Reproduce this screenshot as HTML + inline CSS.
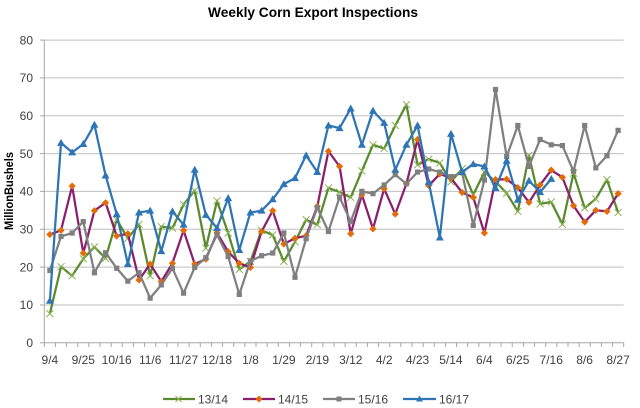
<!DOCTYPE html>
<html>
<head>
<meta charset="utf-8">
<style>
html,body{margin:0;padding:0;background:#fff;}
body{width:640px;height:408px;overflow:hidden;}
svg{display:block;}
text{font-family:"Liberation Sans",Arial,sans-serif;}
</style>
</head>
<body>
<svg id="c" width="640" height="408" viewBox="0 0 640 408" xmlns="http://www.w3.org/2000/svg">
<rect width="640" height="408" fill="#fff"/>
<text x="313" y="17" text-anchor="middle" font-size="14" font-weight="bold" fill="#000" textLength="210" lengthAdjust="spacingAndGlyphs">Weekly Corn Export Inspections</text>
<g id="grid" stroke="#BFBFBF" stroke-width="1">
<line x1="44.3" x2="623.7" y1="40.1" y2="40.1"/>
<line x1="44.3" x2="623.7" y1="77.9" y2="77.9"/>
<line x1="44.3" x2="623.7" y1="115.8" y2="115.8"/>
<line x1="44.3" x2="623.7" y1="153.6" y2="153.6"/>
<line x1="44.3" x2="623.7" y1="191.4" y2="191.4"/>
<line x1="44.3" x2="623.7" y1="229.3" y2="229.3"/>
<line x1="44.3" x2="623.7" y1="267.1" y2="267.1"/>
<line x1="44.3" x2="623.7" y1="305.0" y2="305.0"/>
</g>
<g stroke="#A6A6A6" stroke-width="1">
<line x1="44.3" x2="44.3" y1="40.1" y2="342.8"/>
<line x1="44.3" x2="623.7" y1="342.8" y2="342.8"/>
<line x1="40" x2="44.3" y1="40.1" y2="40.1"/>
<line x1="40" x2="44.3" y1="77.9" y2="77.9"/>
<line x1="40" x2="44.3" y1="115.8" y2="115.8"/>
<line x1="40" x2="44.3" y1="153.6" y2="153.6"/>
<line x1="40" x2="44.3" y1="191.4" y2="191.4"/>
<line x1="40" x2="44.3" y1="229.3" y2="229.3"/>
<line x1="40" x2="44.3" y1="267.1" y2="267.1"/>
<line x1="40" x2="44.3" y1="305.0" y2="305.0"/>
<line x1="40" x2="44.3" y1="342.8" y2="342.8"/>
</g>
<g id="xticks" stroke="#A6A6A6" stroke-width="1"></g>
<g font-size="12" fill="#404040" text-anchor="end">
<text x="33" y="44.3">80</text>
<text x="33" y="82.1">70</text>
<text x="33" y="120">60</text>
<text x="33" y="157.8">50</text>
<text x="33" y="195.6">40</text>
<text x="33" y="233.5">30</text>
<text x="33" y="271.3">20</text>
<text x="33" y="309.2">10</text>
<text x="33" y="347">0</text>
</g>
<text transform="translate(13,191) rotate(-90)" text-anchor="middle" font-size="11.5" font-weight="bold" fill="#000" textLength="78" lengthAdjust="spacingAndGlyphs">MillionBushels</text>
<g font-size="12" fill="#404040" text-anchor="middle">
<text x="49.9" y="364">9/4</text>
<text x="83.3" y="364">9/25</text>
<text x="116.7" y="364">10/16</text>
<text x="150.2" y="364">11/6</text>
<text x="183.6" y="364">11/27</text>
<text x="217.0" y="364">12/18</text>
<text x="250.5" y="364">1/8</text>
<text x="283.9" y="364">1/29</text>
<text x="317.4" y="364">2/19</text>
<text x="350.8" y="364">3/12</text>
<text x="384.2" y="364">4/2</text>
<text x="417.5" y="364">4/23</text>
<text x="450.9" y="364">5/14</text>
<text x="484.4" y="364">6/4</text>
<text x="517.7" y="364">6/25</text>
<text x="551.2" y="364">7/16</text>
<text x="584.6" y="364">8/6</text>
<text x="618.1" y="364">8/27</text>
</g>
<g id="series"></g>
<g id="legend">
<line x1="163" x2="195" y1="399" y2="399" stroke="#5A8A2E" stroke-width="2.25"/>
<path d="M175.5 396 L181.5 402 M181.5 396 L175.5 402" stroke="#8DB255" stroke-width="1"/>
<text x="198" y="403.5" font-size="12" fill="#404040">13/14</text>
<line x1="243" x2="275" y1="399" y2="399" stroke="#8B1F6E" stroke-width="2.25"/>
<path d="M259 395.5 L262.5 399 L259 402.5 L255.5 399 Z" fill="#E36C09"/>
<text x="278" y="403.5" font-size="12" fill="#404040">14/15</text>
<line x1="323" x2="355" y1="399" y2="399" stroke="#808080" stroke-width="2.25"/>
<rect x="336.5" y="396.5" width="5" height="5" fill="#7F7F7F"/>
<text x="358" y="403.5" font-size="12" fill="#404040">15/16</text>
<line x1="403" x2="436" y1="399" y2="399" stroke="#2E75B6" stroke-width="2.25"/>
<path d="M419.5 395.5 L423 401.5 L416 401.5 Z" fill="#2E75B6"/>
<text x="439" y="403.5" font-size="12" fill="#404040">16/17</text>
</g>
</svg>
<script>
(function(){
var NS="http://www.w3.org/2000/svg";
var xt=document.getElementById("xticks");
for(var k=0;k<=52;k++){var x=44.3+k*11.142;var l=document.createElementNS(NS,"line");
l.setAttribute("x1",x);l.setAttribute("x2",x);l.setAttribute("y1",342.8);l.setAttribute("y2",347);xt.appendChild(l);}
function X(i){return 49.87+i*11.142;}
function Y(v){return 342.8-v*3.786;}
var green=[7.7,20.1,17.7,22.2,25.3,22.3,32.5,27.6,31.3,17.7,30.7,30.3,36.5,40.2,25,37.5,29,19.4,21.5,29.7,28.5,21.5,26.7,32.5,31.2,40.9,39.8,38.4,45.4,52.3,51.3,57.4,62.9,47,48.5,47.5,42.5,46,39.1,45.1,42.6,39.5,34.7,49.5,36.7,37.2,31.3,44.8,35.6,38,43.1,34.4];
var purple=[28.6,29.7,41.4,23.7,34.9,37,28.2,28.8,16.6,20.8,16.2,21,29.7,20.8,22.1,29,24.1,21,19.9,29.4,34.9,26.1,27.6,28.3,36,50.6,46.6,28.8,39.1,30.1,40.7,34,42,53.7,41.5,44.6,43.5,39.7,38.4,29,43.1,43.2,41,37.1,41.7,45.6,43.7,36.2,31.9,35,34.7,39.4];
var gray=[19.1,28.1,29,32,18.5,23.8,19.7,16.3,18.5,11.8,15.3,19.7,13.1,19.9,22.5,28.5,22.8,12.8,21.6,23,23.7,29,17.3,27.5,35.7,29.4,38.5,32,40,39.4,41.7,44.4,42,45.1,45.9,45.1,43.9,44.9,31,43,66.9,49.2,57.4,46.6,53.7,52.3,52.1,45.3,57.4,46.2,49.4,56.1];
var blue=[11.1,52.8,50.3,52.5,57.6,44.2,34,20.8,34.4,34.9,24.2,34.7,31.2,45.7,33.8,30.3,38.2,24.5,34.4,34.9,37.9,41.9,43.5,49.5,45.1,57.4,56.7,61.9,52.3,61.3,58.1,45.7,52.3,57.4,42.5,27.8,55.2,45.1,47.2,46.6,40.9,48.1,37.8,42.8,39.8,43.3];
var g=document.getElementById("series");
function line(d,col){var p=document.createElementNS(NS,"polyline");var pts=[];
for(var i=0;i<d.length;i++)pts.push(X(i).toFixed(2)+","+Y(d[i]).toFixed(2));
p.setAttribute("points",pts.join(" "));p.setAttribute("fill","none");p.setAttribute("stroke",col);
p.setAttribute("stroke-width","2.25");p.setAttribute("stroke-linejoin","round");g.appendChild(p);}
function path(d,attrs){var p=document.createElementNS(NS,"path");p.setAttribute("d",d);for(var a in attrs)p.setAttribute(a,attrs[a]);g.appendChild(p);}
line(green,"#5A8A2E");
var d="";for(var i=0;i<green.length;i++){var x=X(i),y=Y(green[i]);d+="M"+(x-3.5)+" "+(y-3.5)+"L"+(x+3.5)+" "+(y+3.5)+"M"+(x+3.5)+" "+(y-3.5)+"L"+(x-3.5)+" "+(y+3.5);}
path(d,{stroke:"#8DB255","stroke-width":"1",fill:"none"});
line(purple,"#8B1F6E");
d="";for(var i=0;i<purple.length;i++){var x=X(i),y=Y(purple[i]);d+="M"+x+" "+(y-3.6)+"L"+(x+3.6)+" "+y+"L"+x+" "+(y+3.6)+"L"+(x-3.6)+" "+y+"Z";}
path(d,{fill:"#E36C09"});
line(gray,"#808080");
d="";for(var i=0;i<gray.length;i++){var x=X(i),y=Y(gray[i]);d+="M"+(x-2.6)+" "+(y-2.6)+"h5.2v5.2h-5.2Z";}
path(d,{fill:"#7F7F7F"});
line(blue,"#2E75B6");
d="";for(var i=0;i<blue.length;i++){var x=X(i),y=Y(blue[i]);d+="M"+x+" "+(y-4)+"L"+(x+4)+" "+(y+3)+"L"+(x-4)+" "+(y+3)+"Z";}
path(d,{fill:"#2E75B6"});
})();
</script>
</body>
</html>
